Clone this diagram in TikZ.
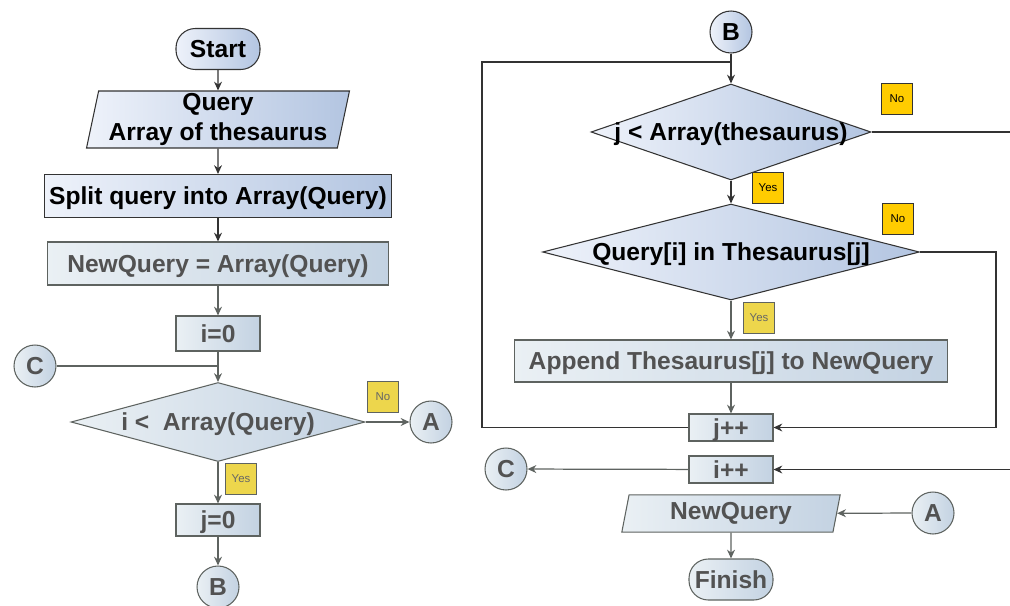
\documentclass[tikz,border=0pt]{standalone}
\usepackage{fontspec}
\setmainfont{Liberation Sans}
\usetikzlibrary{shapes.geometric,arrows.meta}
\definecolor{boxl}{HTML}{EEF2FA}
\definecolor{boxr}{HTML}{B3C5E1}
\definecolor{fadel}{HTML}{EAF0F4}
\definecolor{fader}{HTML}{C3D2E2}
\definecolor{lnk}{HTML}{333333}
\definecolor{fadelnk}{HTML}{5E6360}
\definecolor{tagfill}{HTML}{FFCC00}
\definecolor{fadetag}{HTML}{EDD64C}
\newcommand{\dtext}[1]{\makebox[0pt]{#1}}

\begin{document}
\begin{tikzpicture}[x=0.02cm, y=-0.02cm, >={Stealth[length=5pt,width=4.5pt]},
  base/.style={draw=lnk, line width=0.6pt, left color=boxl, right color=boxr, text=black,
    font=\fontsize{14}{17}\selectfont\bfseries, inner sep=0pt},
  faded/.style={draw=fadelnk, left color=fadel, right color=fader, text=black!68},
  terminal/.style={base, rectangle, rounded corners=11pt, minimum width=1.68cm, minimum height=0.82cm, text depth=0pt},
  io/.style={base, trapezium, trapezium left angle=78, trapezium right angle=102},
  process/.style={base, rectangle, text depth=0pt},
  decision/.style={base, diamond, text depth=0pt},
  connector/.style={base, circle, minimum size=0.84cm, text depth=0pt},
  answer/.style={draw=lnk, line width=0.4pt, fill=tagfill, font=\fontsize{6.5}{7}\selectfont,
    minimum size=0.62cm, inner sep=0pt},
  fadeanswer/.style={answer, draw=fadelnk, fill=fadetag, text=black!60},
  link/.style={draw=lnk, line width=0.7pt},
  fadelink/.style={draw=fadelnk, line width=0.7pt}]
\useasboundingbox (0,0) rectangle (1010,605);

\node[terminal] (start) at (218,49) {Start};
\node[io, minimum width=5.22cm, minimum height=1.14cm, align=center] (query) at (218,119.5) {Query\\Array of thesaurus};
\node[process, minimum width=6.96cm, minimum height=0.86cm] (split) at (218,196) {Split query into Array(Query)};
\node[process, faded, minimum width=6.84cm, minimum height=0.86cm] (newq) at (218,263.5) {NewQuery = Array(Query)};
\node[process, faded, minimum width=1.68cm, minimum height=0.7cm] (izero) at (218,333.5) {i=0};
\node[connector, faded] (cleft) at (35,366) {C};
\node[decision, faded, minimum width=5.88cm, minimum height=1.58cm] (iloop) at (218,422) {\dtext{i <\ \ Array(Query)}};
\node[fadeanswer] (ino) at (383,397) {No};
\node[connector, faded] (aleft) at (431,422) {A};
\node[fadeanswer] (iyes) at (241,478.5) {Yes};
\node[process, faded, minimum width=1.68cm, minimum height=0.64cm] (jzero) at (218,520) {j=0};
\node[connector, faded] (bleft) at (218,587) {B};

\node[connector] (bright) at (731,32) {B};
\node[decision, minimum width=5.6cm, minimum height=1.92cm] (jloop) at (731,132) {\dtext{j < Array(thesaurus)}};
\node[answer] (jno) at (897,99) {No};
\node[answer] (jyes) at (768,188) {Yes};
\node[decision, minimum width=7.54cm, minimum height=1.92cm] (found) at (731,252) {\dtext{Query[i] in Thesaurus[j]}};
\node[answer] (fno) at (898,219) {No};
\node[fadeanswer] (fyes) at (759,318) {Yes};
\node[process, faded, minimum width=8.66cm, minimum height=0.84cm] (append) at (731,361) {Append Thesaurus[j] to NewQuery};
\node[process, faded, minimum width=1.68cm, minimum height=0.54cm] (jinc) at (731,427.5) {j++};
\node[process, faded, minimum width=1.68cm, minimum height=0.54cm] (iinc) at (731,469.5) {i++};
\node[connector, faded] (cright) at (506,469) {C};
\node[io, faded, trapezium left angle=79, trapezium right angle=101, minimum width=4.37cm, minimum height=0.64cm] (result) at (731,513.5) {NewQuery};
\node[connector, faded] (aright) at (933,513) {A};
\node[terminal, faded] (finish) at (731,579.5) {Finish};

\coordinate (ltop) at (731,62);
\coordinate (lside) at (482,250);
\coordinate (rside) at (996,350);
\coordinate (offpage) at (1030,300);

\draw[link,->] (start) -- (query);
\draw[link,->] (query) -- (split);
\draw[link,->] (split) -- (newq);
\draw[fadelink,->] (newq) -- (izero);
\draw[fadelink,->] (izero) -- (iloop);
\draw[fadelink] (cleft) -- (cleft -| izero);
\draw[fadelink,->] (iloop) -- (aleft);
\draw[fadelink,->] (iloop) -- (jzero);
\draw[fadelink,->] (jzero) -- (bleft);
\draw[link,->] (bright) -- (jloop);
\draw[link,->] (jloop) -- (found);
\draw[fadelink,->] (found) -- (append);
\draw[fadelink,->] (append) -- (jinc);
\draw[link,->] (found.east) -| (rside) |- (jinc.east);
\draw[link] (jinc.west) -| (lside) |- (ltop);
\draw[link,->] (jloop.east) -| (offpage) |- (iinc.east);
\draw[fadelink,->] (iinc) -- (cright);
\draw[fadelink,->] (aright) -- (result);
\draw[fadelink,->] (result) -- (finish);
\end{tikzpicture}
\end{document}
